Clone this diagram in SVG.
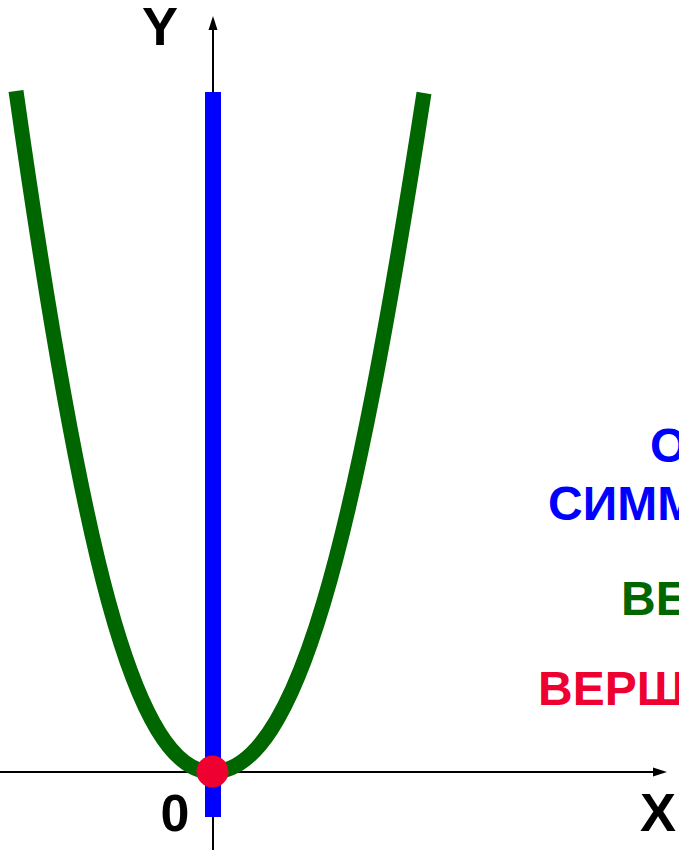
<svg xmlns="http://www.w3.org/2000/svg" width="679" height="850" viewBox="0 0 679 850">
<defs>
<style>
.lbl{font-family:"Liberation Sans",Arial,sans-serif;font-weight:bold;}
.ax{stroke:#000;stroke-width:2;fill:none;}
</style>
</defs>
<rect width="679" height="850" fill="#fff"/>
<g id="axes">
<line class="ax" x1="0" y1="772" x2="656" y2="772"/>
<polygon points="667,772 653,767.5 653,776.5" fill="#000"/>
<line class="ax" x1="213" y1="850" x2="213" y2="28"/>
<polygon points="213,16 208.5,30 217.5,30" fill="#000"/>
</g>
<g id="parabola">
<path d="M16 91 C80.7 547.6 133.6 772 212 772 C296.8 772 354 547.6 424 93" fill="none" stroke="#006600" stroke-width="15"/>
</g>
<g id="symmetry-axis">
<rect x="205" y="92" width="16" height="725" fill="#0000ff"/>
</g>
<g id="vertex">
<circle cx="212.5" cy="771.5" r="16" fill="#ee0030"/>
</g>
<g id="labels">
<text class="lbl" x="160" y="45" font-size="54" text-anchor="middle" fill="#000">Y</text>
<text class="lbl" x="175" y="831" font-size="52" text-anchor="middle" fill="#000">0</text>
<text class="lbl" x="640" y="831" font-size="54" fill="#000">X</text>
<text class="lbl" x="650" y="462" font-size="48" fill="#0000ff">О</text>
<text class="lbl" x="548" y="520" font-size="48" fill="#0000ff">СИММ</text>
<text class="lbl" x="621" y="615" font-size="48" fill="#006600">ВЕ</text>
<text class="lbl" x="538" y="705" font-size="48" fill="#ee0030">ВЕРШ</text>
</g>
</svg>
